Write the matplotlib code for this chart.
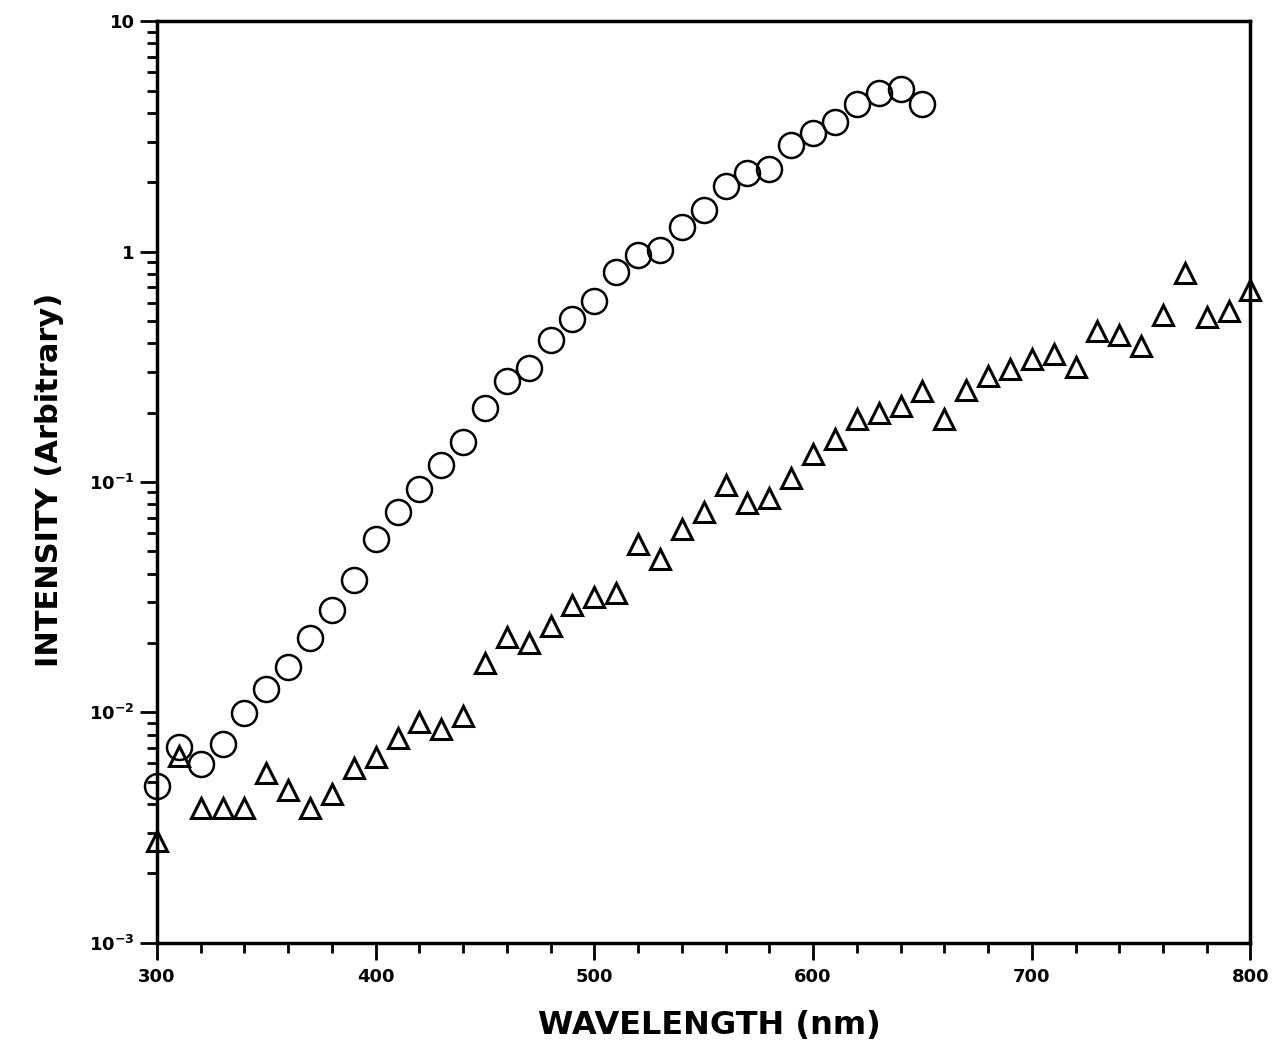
import numpy as np
import matplotlib.pyplot as plt
from matplotlib.ticker import FixedLocator, LogLocator, NullFormatter

# circles: 300-650 nm
wl_circ = np.arange(300, 660, 10)
circ = [0.00477, 0.00705, 0.00594, 0.00727, 0.0099, 0.0126, 0.0158, 0.021,
        0.0277, 0.0375, 0.0565, 0.0741, 0.0933, 0.1186, 0.149, 0.21, 0.275,
        0.313, 0.414, 0.511, 0.607, 0.811, 0.97, 1.02, 1.28, 1.51, 1.92, 2.2,
        2.29, 2.89, 3.26, 3.64, 4.36, 4.87, 5.06, 4.36]

# triangles: 300-800 nm
wl_tri = np.arange(300, 810, 10)
tri = [0.00275, 0.00644, 0.00386, 0.00386, 0.00386, 0.00543, 0.00458, 0.00386,
       0.0044, 0.00571, 0.00637, 0.0077, 0.0091, 0.00844, 0.0096, 0.0163,
       0.0212, 0.02, 0.0237, 0.0292, 0.0316, 0.0329, 0.0537, 0.0462, 0.0625,
       0.074, 0.097, 0.081, 0.085, 0.104, 0.132, 0.154, 0.188, 0.2, 0.214,
       0.249, 0.188, 0.251, 0.289, 0.31, 0.343, 0.36, 0.316, 0.454, 0.436,
       0.39, 0.532, 0.81, 0.521, 0.553, 0.684]

xticks = [300, 400, 500, 600, 700, 800]
yticks = [1e-3, 1e-2, 1e-1, 1, 10]
ylabels = [r'$\mathbf{10^{-3}}$', r'$\mathbf{10^{-2}}$', r'$\mathbf{10^{-1}}$', '1', '10']

fig = plt.figure(figsize=(12.76, 10.58), dpi=100)
ax = fig.add_axes([0.123, 0.109, 0.857, 0.871])

ax.plot(wl_circ, circ, 'o', ms=18, mfc='none', mec='black', mew=1.8, clip_on=False)
ax.plot(wl_tri, tri, '^', ms=14, mfc='none', mec='black', mew=2.2, clip_on=False)

ax.set_yscale('log')
ax.set_xlim(300, 800)
ax.set_ylim(1e-3, 10)

ax.set_xticks(xticks)
ax.set_xticklabels([str(t) for t in xticks], fontsize=13, fontweight='bold')
ax.xaxis.set_minor_locator(FixedLocator(np.arange(300, 801, 20)))
ax.set_yticks(yticks)
ax.set_yticklabels(ylabels, fontsize=13, fontweight='bold')
ax.yaxis.set_minor_locator(LogLocator(base=10, subs=np.arange(2, 10)))
ax.yaxis.set_minor_formatter(NullFormatter())

ax.tick_params(which='major', direction='out', length=12, width=2)
ax.tick_params(which='minor', direction='out', length=7, width=2)
ax.tick_params(axis='x', pad=6)
ax.tick_params(axis='y', pad=4)
for s in ax.spines.values():
    s.set_linewidth(2.5)

fig.text(0.556, 0.031, 'WAVELENGTH (nm)', fontsize=23, fontweight='bold',
         ha='center', va='center')
fig.text(0.039, 0.546, 'INTENSITY (Arbitrary)', fontsize=22, fontweight='bold',
         ha='center', va='center', rotation=90)

fig.savefig('out.png', dpi=100)
